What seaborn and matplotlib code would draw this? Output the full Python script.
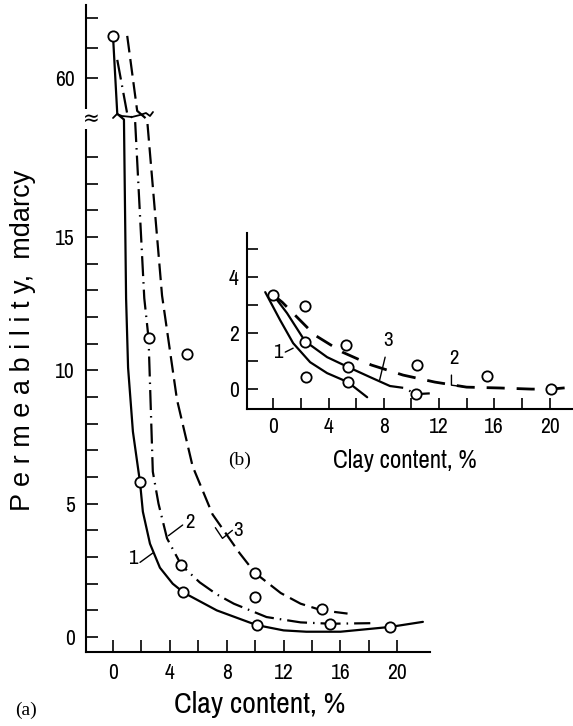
import numpy as np
import matplotlib
matplotlib.use("Agg")
import matplotlib.pyplot as plt
import seaborn as sns
from matplotlib import font_manager
from matplotlib.ticker import FixedLocator

# ---- data ----
# (a) main panel: measured points
a_pts_x = [0, 2.5, 5.2, 1.9, 4.8, 4.9, 10.0, 10.0, 10.1, 14.7, 15.3, 19.5]
a_pts_y = [61.4, 11.2, 10.6, 5.8, 2.7, 1.7, 2.4, 1.5, 0.45, 1.05, 0.5, 0.38]

# curve 1 (solid)
a1_x = [0, 0.3, 0.77, 0.92, 1.06, 1.4, 1.9, 2.1, 2.6, 3.3, 4.2, 4.9, 5.2, 7.3, 10.1, 12, 13.6, 16, 19.5, 21.8]
a1_y = [61.4, 58.8, 19.4, 12.7, 10.1, 7.7, 5.8, 4.7, 3.5, 2.6, 2.0, 1.7, 1.6, 1.0, 0.45, 0.25, 0.2, 0.2, 0.38, 0.57]
# curve 2 (dash-dot)
a2_x = [0.3, 1.0, 1.55, 2.2, 2.5, 2.8, 3.2, 3.8, 4.8, 6.1, 7.3, 8.5, 10.8, 13.2, 15.3, 18.1]
a2_y = [60.6, 58.8, 19.4, 12.7, 11.2, 6.2, 5.0, 3.7, 2.7, 2.05, 1.6, 1.25, 0.75, 0.55, 0.5, 0.52]
# curve 3 (dashed)
a3_x = [1.0, 1.7, 2.4, 3.45, 4.5, 5.6, 7.0, 8.9, 10.0, 11.8, 13.2, 14.7, 16.5]
a3_y = [61.4, 58.9, 19.4, 12.8, 8.9, 6.4, 4.6, 3.15, 2.4, 1.65, 1.25, 1.0, 0.88]

# (b) inset panel
b_pts_x = [0, 2.3, 2.3, 2.4, 5.3, 5.4, 5.4, 10.4, 10.3, 15.5, 20.1]
b_pts_y = [3.36, 2.96, 1.68, 0.43, 1.57, 0.79, 0.25, 0.86, -0.18, 0.46, 0.0]

b1_x = [-0.58, 0.5, 1.44, 2.67, 3.9, 5.4, 6.8]
b1_y = [3.46, 2.46, 1.64, 0.96, 0.57, 0.25, -0.29]
b3_x = [0, 1.0, 2.3, 3.9, 5.4, 7.0, 8.45]
b3_y = [3.36, 2.71, 1.71, 1.14, 0.79, 0.43, 0.11]
b3_tail_x = [8.45, 9.5, 10.3, 11.8]
b3_tail_y = [0.11, 0.04, -0.18, -0.14]
b2_x = [0, 0.65, 3.0, 5.0, 7.1, 9.4, 11.7, 14.0, 16.4, 18.7, 20.1, 21.7]
b2_y = [3.36, 3.1, 1.93, 1.32, 0.86, 0.5, 0.25, 0.07, 0.04, 0.0, 0.0, 0.07]

W, H = 573, 726

sns.set_style("ticks")

# look for a narrow sans face for the tick labels
narrow_name, narrow_stretch = None, "normal"
for f in font_manager.fontManager.ttflist:
    if f.style != "normal" or f.weight not in (400, "normal", "regular"):
        continue
    st = str(f.stretch)
    if "Narrow" in f.name or "Condensed" in f.name:
        narrow_name, narrow_stretch = f.name, st
        break
    if st in ("condensed", "semi-condensed") and narrow_name is None:
        narrow_name, narrow_stretch = f.name, st
if narrow_name is None:
    narrow_name = "Liberation Sans"
    scale = 0.86
else:
    scale = 1.0

plt.rcParams["font.family"] = [narrow_name, "DejaVu Sans"]
plt.rcParams["font.stretch"] = narrow_stretch
plt.rcParams["axes.linewidth"] = 1.5
for k in ["text.color", "axes.labelcolor", "xtick.color", "ytick.color", "axes.edgecolor"]:
    plt.rcParams[k] = "black"

fig = plt.figure(figsize=(W / 100, H / 100), dpi=100)
fig.patch.set_facecolor("white")


def fx(px):
    return px / W


def fy(py):
    return 1 - py / H


# broken y axis for panel (a)
L, U0, K = 19.5, 58.7, 1.124


def fwd(y):
    y = np.asarray(y, dtype=float)
    return np.where(y <= L, y, np.where(y < U0, L, L + (y - U0) * K))


def inv(t):
    t = np.asarray(t, dtype=float)
    return np.where(t <= L, t, U0 + (t - L) / K)


ax = fig.add_axes([fx(86), fy(652), fx(430) - fx(86), fy(5) - fy(652)])
ax.set_facecolor("white")

line_kw = dict(color="black", sort=False, estimator=None, legend=False)
sns.lineplot(x=a1_x, y=a1_y, ax=ax, lw=1.6, **line_kw)
sns.lineplot(x=a2_x, y=a2_y, ax=ax, lw=1.6, linestyle=(0, (9, 2.7, 0.7, 2.7)), **line_kw)
sns.lineplot(x=a3_x, y=a3_y, ax=ax, lw=1.6, linestyle=(0, (7.5, 3)), **line_kw)
sns.scatterplot(x=a_pts_x, y=a_pts_y, ax=ax, s=55, color="white", edgecolor="black",
                linewidth=1.3, zorder=5, legend=False)

ax.set_yscale("function", functions=(fwd, inv))
ax.set_xlim(-1.9, 22.3)
ax.set_ylim(-0.56, 62.43)
ax.yaxis.set_major_locator(FixedLocator([0, 5, 10, 15, 60]))
ax.yaxis.set_minor_locator(FixedLocator(list(range(0, 19)) + [61, 62]))
ax.set_yticklabels(["0", "5", "10", "15", "60"])
ax.set_xticks([0, 4, 8, 12, 16, 20])
ax.set_xticks(np.arange(0, 21, 2), minor=True)
for s in ["top", "right"]:
    ax.spines[s].set_visible(False)
ax.tick_params(which="both", direction="in", length=8.5, width=1.2, labelsize=15.5 * scale, pad=8)
ax.set_xlabel("")
ax.set_ylabel("")

# curve labels (a)
ax.text(1.4, 2.96, "1", fontsize=15 * scale, ha="center", va="center")
ax.plot([1.9, 2.8], [2.8, 3.15], color="black", lw=1)
ax.text(5.4, 4.3, "2", fontsize=15 * scale, ha="center", va="center")
ax.plot([3.9, 4.9], [3.8, 4.2], color="black", lw=1)
ax.text(8.8, 4.0, "3", fontsize=15 * scale, ha="center", va="center")
ax.plot([7.2, 7.7, 8.4], [4.1, 3.7, 4.0], color="black", lw=1)

# break marks
fig.text(fx(91), fy(119), "≈", fontsize=16, ha="center", va="center", family="DejaVu Sans",
         bbox=dict(facecolor="white", edgecolor="none", pad=0))
brk_x = [113, 117, 122, 132, 140, 146, 150, 153]
brk_y = [118, 114, 116, 117, 115, 113, 116, 112]
fig.add_artist(plt.Line2D([fx(v) for v in brk_x], [fy(v) for v in brk_y], color="black", lw=1.3))

fig.text(fx(23), fy(340), "P e r m e a b i l i t y,  mdarcy", rotation=90, fontsize=19.5,
         ha="center", va="center", family=["Liberation Sans", "DejaVu Sans"], stretch="normal")
fig.text(fx(260), fy(705), "Clay content, %", fontsize=21.5 * scale, ha="center", va="center")
fig.text(fx(26), fy(710), "(a)", fontsize=14, ha="center", va="center",
         family="Liberation Serif", stretch="normal")

# ---- inset (b) ----
axb = fig.add_axes([fx(247), fy(409), 1 - fx(247), fy(233) - fy(409)])
axb.set_facecolor("white")
sns.lineplot(x=b1_x, y=b1_y, ax=axb, lw=1.6, **line_kw)
sns.lineplot(x=b3_x, y=b3_y, ax=axb, lw=1.6, **line_kw)
sns.lineplot(x=b3_tail_x, y=b3_tail_y, ax=axb, lw=1.6, linestyle=(0, (6, 3, 0.7, 3)), **line_kw)
sns.lineplot(x=b2_x, y=b2_y, ax=axb, lw=2.0, linestyle=(0, (6.5, 4.3)), **line_kw)
sns.scatterplot(x=b_pts_x, y=b_pts_y, ax=axb, s=55, color="white", edgecolor="black",
                linewidth=1.3, zorder=5, legend=False)
axb.set_xlim(-1.9, 21.7)
axb.set_ylim(-0.71, 5.57)
axb.set_xticks([0, 4, 8, 12, 16, 20])
axb.set_xticks(np.arange(0, 21, 2), minor=True)
axb.set_yticks([0, 2, 4])
axb.set_yticks([1, 3, 5], minor=True)
for s in ["top", "right"]:
    axb.spines[s].set_visible(False)
axb.tick_params(which="both", direction="in", length=8, width=1.2, labelsize=15.5 * scale, pad=6)
axb.set_xlabel("")
axb.set_ylabel("")

axb.text(0.36, 1.29, "1", fontsize=15 * scale, ha="center", va="center")
axb.plot([0.87, 1.44], [1.32, 1.46], color="black", lw=1)
axb.text(8.3, 1.72, "3", fontsize=15 * scale, ha="center", va="center")
axb.plot([8.1, 7.7], [1.14, 0.32], color="black", lw=1)
axb.text(13.1, 1.1, "2", fontsize=15 * scale, ha="center", va="center")
axb.plot([12.9, 12.9, 14.0], [0.5, 0.14, 0.07], color="black", lw=1)

fig.text(fx(405), fy(460), "Clay content, %", fontsize=18 * scale, ha="center", va="center")
fig.text(fx(240), fy(460), "(b)", fontsize=14, ha="center", va="center",
         family="Liberation Serif", stretch="normal")

fig.savefig("out.png", dpi=100, facecolor="white")
